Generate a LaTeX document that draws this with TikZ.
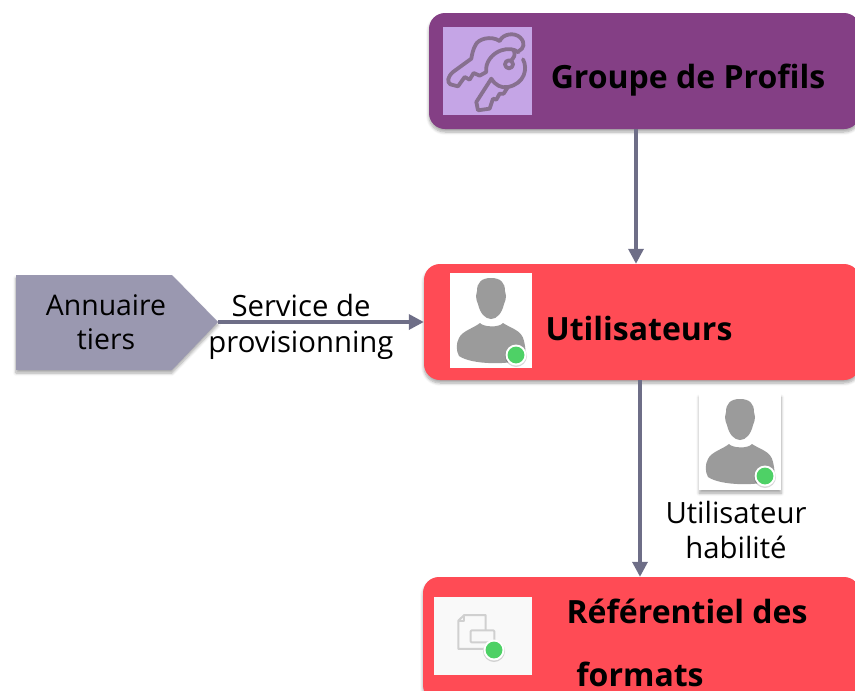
\documentclass[tikz,border=0pt]{standalone}
\usepackage{fontspec}
\setmainfont{Open Sans}
\usetikzlibrary{arrows.meta,shadows,shadows.blur}
\definecolor{purplebox}{HTML}{843F85}
\definecolor{lilac}{HTML}{C5A5E6}
\definecolor{redbox}{HTML}{FF4B55}
\definecolor{slatebox}{HTML}{9A98B0}
\definecolor{linkcol}{HTML}{6E6E87}
\definecolor{greendot}{HTML}{4ED166}
\definecolor{persongrey}{HTML}{9B9B9B}
\definecolor{keycol}{HTML}{87708F}
\definecolor{doccol}{HTML}{D0D0D0}
\tikzset{
  softshadow/.style={blur shadow={shadow xshift=0pt,shadow yshift=-3pt,shadow blur steps=6,shadow blur radius=3pt,shadow opacity=35}},
  bigbox/.style={draw=none,rounded corners=16pt,inner sep=0pt,softshadow},
  tilebox/.style={draw=none,inner sep=0pt,anchor=north west},
  boldtxt/.style={inner sep=0pt,anchor=base,font=\fontsize{32}{38}\bfseries\selectfont,text=black},
  regtxt/.style={inner sep=0pt,align=center,font=\fontsize{29.3}{35}\selectfont,text=black},
  link/.style={draw=linkcol,line width=3.4pt,-{Triangle[length=15pt,width=15pt]}},
  statusdot/.pic={
    \fill[black,opacity=.15] (0,1) circle (11);
    \fill[white] (0,0) circle (10.5);
    \fill[greendot] (0,0) circle (8.4);
  },
  person/.pic={
    \fill[persongrey] (41,5) .. controls (31,5) and (27,10) .. (27,18)
      .. controls (27,20) and (26,21) .. (26,23)
      .. controls (26,26) and (27,29) .. (28,31)
      .. controls (30,40) and (35,46) .. (41,46)
      .. controls (47,46) and (52,40) .. (54,31)
      .. controls (55,29) and (56,26) .. (56,23)
      .. controls (56,21) and (55,20) .. (55,18)
      .. controls (55,10) and (51,5) .. (41,5) -- cycle;
    \fill[persongrey] (30,50) .. controls (33,54) and (49,55) .. (53,50)
      .. controls (60,55) and (72,57) .. (74,68)
      .. controls (76,76) and (76,84) .. (74,86)
      .. controls (60,92) and (22,92) .. (9,83)
      .. controls (6,78) and (6,70) .. (9,65)
      .. controls (12,58) and (24,55) .. (30,50) -- cycle;
    \pic at (66,82) {statusdot};
  }
}
\begin{document}
\begin{tikzpicture}[x=1pt,y=-1pt]
\useasboundingbox (0,0) rectangle (855,691);
% boxes
\node[bigbox,fill=purplebox,minimum width=431pt,minimum height=116pt] (grp) at (644.5,71) {};
\node[bigbox,fill=redbox,minimum width=436pt,minimum height=116pt] (usr) at (642,322) {};
\node[bigbox,fill=redbox,minimum width=437pt,minimum height=124pt] (ref) at (641.5,639) {};
\fill[slatebox,softshadow] (16,275) -- (172,275) -- (218,322) -- (172,370) -- (16,370) -- cycle;
\coordinate (ann) at (218,322);
\coordinate (grpx) at (636,130);
\coordinate (usrx) at (640,380);
% connectors
\draw[link] (grpx |- grp.south) -- (grpx |- usr.north);
\draw[link] (ann) -- (ann -| usr.west);
\draw[link] (usrx |- usr.south) -- (usrx |- ref.north);
% group tile with keys
\node[tilebox,fill=lilac,minimum width=89pt,minimum height=88pt] (keytile) at (443,27) {};
\begin{scope}[shift={(443,27)},x=0.3333pt,y=-0.3333pt,draw=keycol,line width=3.8pt,line join=round,line cap=round]
  \draw (170,42) .. controls (180,20) and (215,15) .. (232,32) .. controls (248,48) and (242,65) .. (228,72);
  \draw (170,42) .. controls (145,25) and (105,35) .. (97,55) .. controls (90,68) and (87,82) .. (85,95)
    -- (30,135) .. controls (13,150) and (12,165) .. (22,172) -- (45,178) -- (65,150) -- (80,158) -- (92,138) -- (110,146) -- (130,135);
  \draw (130,135) .. controls (125,105) and (150,78) .. (175,70) .. controls (195,63) and (215,66) .. (226,76);
  \draw (198,112) circle (12);
  \draw (205,100) .. controls (212,92) and (218,85) .. (213,72);
  \draw (240,97) .. controls (255,125) and (245,170) .. (195,180) .. controls (175,184) and (157,175) .. (145,155)
    -- (100,225) -- (105,250) -- (140,245) -- (150,215) -- (160,218) -- (170,200) -- (182,200) -- (195,180);
\end{scope}
% user tile
\node[tilebox,fill=white,minimum width=82pt,minimum height=95pt] (usrtile) at (450,273) {};
\pic at (450,273) {person};
% standalone user tile
\node[tilebox,fill=white,minimum width=82pt,minimum height=96pt,softshadow] (habtile) at (699,394) {};
\pic at (699,394) {person};
% referential tile
\node[tilebox,fill=white!97.5!black,minimum width=98pt,minimum height=78pt] (reftile) at (434,597) {};
\begin{scope}[shift={(415,570)},x=0.3333pt,y=-0.3333pt,draw=doccol,line width=2pt,line join=round]
  \draw (205,237) -- (130,237) -- (130,152) -- (148,135) -- (212,135) -- (212,180);
  \draw (130,152) -- (148,152) -- (148,135);
  \draw[rounded corners=1pt] (167,181) rectangle (238,217);
\end{scope}
\pic at (494,650) {statusdot};
% texts
\node[boldtxt] (t1) at (688,88) {Groupe de Profils};
\node[boldtxt] (t2) at (639,340) {Utilisateurs};
\node[boldtxt] (t3) at (687,623) {Référentiel des};
\node[boldtxt] (t4) at (640,686) {formats};
\node[regtxt,font=\fontsize{28.4}{34}\selectfont] (t5) at (106,322) {Annuaire\\tiers};
\node[regtxt] (t6) at (301,326.5) {Service de\\[1pt]provisionning};
\node[regtxt] (t7) at (736,530) {Utilisateur\\habilité};
\end{tikzpicture}
\end{document}
